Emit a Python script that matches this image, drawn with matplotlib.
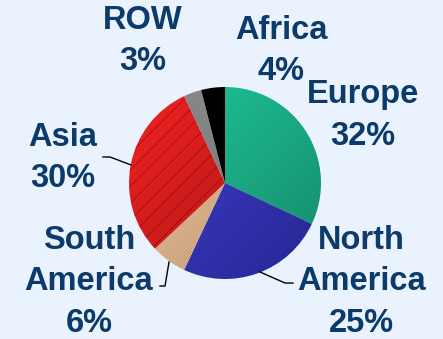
import matplotlib.pyplot as plt
import numpy as np
from matplotlib.colors import LinearSegmentedColormap

# parts du total, dans le sens horaire depuis midi
regions = ["Europe", "North\nAmerica", "South\nAmerica", "Asia", "ROW", "Africa"]
parts = [32, 25, 6, 30, 3, 4]

# couleurs claires / foncees pour le degrade de chaque part
clair = ["#22D3A2", "#4646DC", "#F4CDA6", "#FF2424", "#8C8C8C", "#000000"]
fonce = ["#16906E", "#28289A", "#C89C74", "#A81616", "#707070", "#000000"]

navy = "#0B3A6B"
fond = "#EAF3FD"

fig = plt.figure(figsize=(4.43, 3.39), dpi=100, facecolor=fond)
ax = fig.add_axes([0, 0, 1, 1])
ax.set_facecolor(fond)

wedges, _ = ax.pie(parts, startangle=90, counterclock=False, radius=1,
                   wedgeprops=dict(linewidth=0))

# degrade diagonal clippe sur chaque part
grad = np.linspace(0, 1, 200)
img = (grad[None, :] + grad[:, None]) / 2
for w, c1, c2 in zip(wedges, clair, fonce):
    w.set_facecolor("none")
    cm = LinearSegmentedColormap.from_list("g", [c1, c2])
    im = ax.imshow(img, cmap=cm, extent=(-1, 1, -1, 1), origin="upper",
                   interpolation="bilinear", zorder=1)
    im.set_clip_path(w)

# hachures fines
plt.rcParams["hatch.linewidth"] = 0.6
over, _ = ax.pie(parts, startangle=90, counterclock=False, radius=1,
                 wedgeprops=dict(linewidth=0, facecolor="none"))
for i, w in enumerate(over):
    w.set_zorder(2)
    if i < 4:
        w.set_hatch("//////////")
        w.set_edgecolor((0, 0, 0, 0.12))
    w.set_linewidth(0)

# grosses lignes sur l'Asie
plt.rcParams["hatch.linewidth"] = 0.8
asie, _ = ax.pie(parts, startangle=90, counterclock=False, radius=1,
                 wedgeprops=dict(linewidth=0, facecolor="none"))
for i, w in enumerate(asie):
    w.set_zorder(3)
    if i == 3:
        w.set_hatch("//")
        w.set_edgecolor((0.55, 0, 0, 0.5))
    w.set_linewidth(0)

# etiquettes
etiq_xy = [(1.4375, 0.70), (1.417, -1.03), (-1.417, -1.03),
           (-1.6875, 0.26), (-0.854, 1.48), (0.583, 1.375)]
for nom, p, (x, y) in zip(regions, parts, etiq_xy):
    ax.text(x, y, f"{nom}\n{p}%", ha="center", va="center", color=navy,
            fontsize=23.5, fontweight="bold", family="Liberation Sans",
            linespacing=1.45, zorder=5)

# traits de rappel
traits = [
    [(-1.271, 0.271), (-1.198, 0.271), (-0.979, 0.188)],
    [(-0.677, -1.073), (-0.625, -1.073), (-0.583, -0.823)],
    [(0.365, -0.927), (0.625, -1.042), (0.708, -1.042)],
]
for t in traits:
    xs, ys = zip(*t)
    ax.plot(xs, ys, color="black", lw=1, zorder=4)

ax.set_xlim(-225 / 96, 218 / 96)
ax.set_ylim(-156 / 96, 183 / 96)
ax.set_aspect("equal")
ax.axis("off")

fig.savefig("out.png", dpi=100, facecolor=fond)
